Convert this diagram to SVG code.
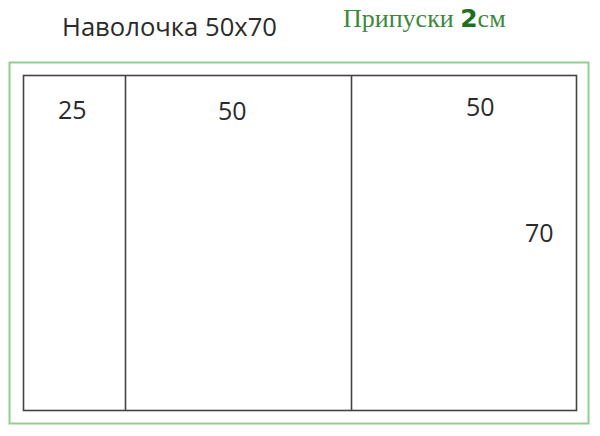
<svg xmlns="http://www.w3.org/2000/svg" width="600" height="436" viewBox="0 0 600 436">
<style>
.lbl{font-family:"Open Sans","Noto Sans",sans-serif;font-size:25px;fill:#2b2b2b}
.ttl{font-family:"Liberation Serif",serif;font-size:26px;fill:#3a8a3a}
</style>
<rect width="600" height="436" fill="#ffffff"/>
<g id="allowance">
<rect x="9.5" y="62.5" width="579" height="361" fill="none" stroke="#8fd08f" stroke-width="2"/>
</g>
<g id="pattern">
<rect x="23.5" y="75.5" width="553" height="335" fill="none" stroke="#444" stroke-width="1.6"/>
</g>
<g id="connectors">
<line x1="125.5" y1="75.5" x2="125.5" y2="410.5" stroke="#444" stroke-width="1.6"/>
<line x1="351.5" y1="75.5" x2="351.5" y2="410.5" stroke="#444" stroke-width="1.6"/>
</g>
<g id="title"><text class="lbl" x="62" y="36" textLength="215" lengthAdjust="spacingAndGlyphs">Наволочка 50x70</text></g>
<g id="allowance-label"><text class="ttl" x="343" y="27">Припуски <tspan font-family="DejaVu Sans,sans-serif" font-weight="bold" font-size="25" fill="#1f6f1f">2</tspan>см</text></g>
<g id="l25"><text class="lbl" x="58" y="119">25</text></g>
<g id="l50a"><text class="lbl" x="218" y="120">50</text></g>
<g id="l50b"><text class="lbl" x="466" y="116">50</text></g>
<g id="l70"><text class="lbl" x="525" y="242">70</text></g>
</svg>
